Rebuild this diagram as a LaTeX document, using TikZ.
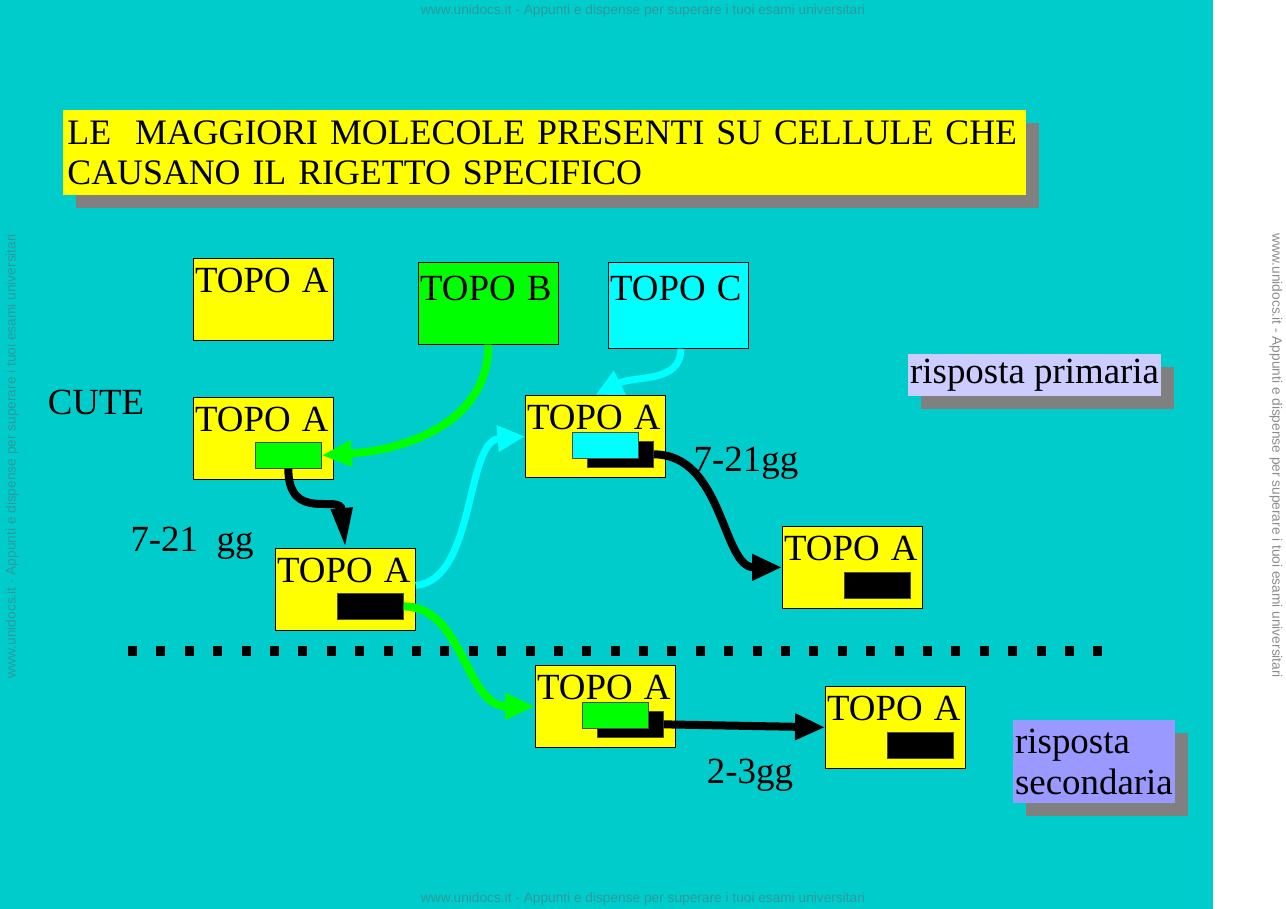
\documentclass[tikz,border=0pt]{standalone}
\usepackage{fontspec}
\setmainfont{Liberation Serif}
\newfontfamily\wmfont{Liberation Sans}
\usetikzlibrary{positioning,arrows.meta,shadows}
\definecolor{slide}{HTML}{00CCCC}
\definecolor{topoyel}{HTML}{FFFF00}
\definecolor{topogrn}{HTML}{00FF00}
\definecolor{topocya}{HTML}{00FFFF}
\definecolor{lilla}{HTML}{CCCCFF}
\definecolor{viola}{HTML}{9999FF}
\definecolor{ombra}{HTML}{808080}
\definecolor{wmark}{HTML}{2C9A9A}
\definecolor{wmgrey}{HTML}{8C8C8C}
\newcommand{\topoA}{TOPO\hspace{0.3em}A}

\begin{document}
\begin{tikzpicture}[x=0.02cm, y=-0.02cm,
    topo/.style={draw, fill=topoyel, anchor=north west, text width=2.73cm, align=left, inner sep=1pt, text height=0.64cm, text depth=0.93cm, font=\fontsize{21}{24}\selectfont},
    chip/.style={draw=black!70, anchor=north west, minimum width=1.32cm, minimum height=0.52cm, inner sep=0pt},
    lbl/.style={font=\fontsize{21}{23.2}\selectfont, inner sep=1pt},
    shadowbox/.style={drop shadow={shadow xshift=0.26cm, shadow yshift=-0.25cm, fill=ombra, opacity=1}},
    fat/.style={line width=0.16cm, -{Triangle[length=0.6cm, width=0.5cm]}},
    thin/.style={line width=0.14cm, -{Triangle[length=0.55cm, width=0.5cm]}},
    wm/.style={font=\wmfont\fontsize{7.8}{9}\selectfont, text=wmark, inner sep=0pt}
  ]
    \useasboundingbox (0,0) rectangle (1286,909);
    \fill[slide] (0,0) rectangle (1213,909);

    % watermarks
    \node[wm] (wmtop) at (643,11) {www.unidocs.it - Appunti e dispense per superare i tuoi esami universitari};
    \node[wm] (wmbot) at (643,899) {www.unidocs.it - Appunti e dispense per superare i tuoi esami universitari};
    \node[wm, rotate=90] (wmleft) at (12,456) {www.unidocs.it - Appunti e dispense per superare i tuoi esami universitari};
    \node[wm, rotate=-90, text=wmgrey] (wmright) at (1276,456) {www.unidocs.it - Appunti e dispense per superare i tuoi esami universitari};

    % title
    \node[shadowbox, fill=topoyel, anchor=north west, minimum width=19.26cm, minimum height=1.7cm, text width=19.1cm, inner xsep=0.06cm, yshift=-0.02cm, align=left, font=\fontsize{20.4}{23.2}\selectfont] (titolo) at (63,109) {\mbox{LE~~MAGGIORI MOLECOLE PRESENTI SU CELLULE CHE}\\CAUSANO IL RIGETTO SPECIFICO};

    % donors
    \node[topo] (topoA0) at (193,258) {\topoA};
    \node[topo, fill=topogrn, text height=0.72cm, text depth=0.85cm] (topoB) at (418,262) {TOPO\hspace{0.3em}B};
    \node[topo, fill=topocya, text height=0.72cm, text depth=0.93cm] (topoC) at (608,262) {TOPO\hspace{0.3em}C};

    \node[lbl] (cute) at (96,402) {CUTE};

    % primary graft
    \node[topo] (topoA1) at (193,397) {\topoA};
    \node[chip, fill=topogrn] (gchip1) at (255,442) {};

    \node[topo] (topoA2) at (275,548) {\topoA};
    \node[chip, fill=black] (kchip2) at (337,593) {};

    \node[topo] (topoA3) at (525,395) {\topoA};
    \node[chip, fill=black] (kchip3) at (587,441) {};
    \node[chip, fill=topocya] (cchip3) at (572,432) {};

    \node[topo] (topoA4) at (782,526) {\topoA};
    \node[chip, fill=black] (kchip4) at (844,572) {};

    % secondary
    \node[topo] (topoA5) at (535,665) {\topoA};
    \node[chip, fill=black] (kchip5) at (597,711) {};
    \node[chip, fill=topogrn] (gchip5) at (582,702) {};

    \node[topo] (topoA6) at (825,686) {\topoA};
    \node[chip, fill=black] (kchip6) at (887,732) {};

    \node[lbl] (gg1) at (192,543) {7-21~~gg};
    \node[lbl] (gg2) at (746,463) {7-21gg};
    \node[lbl] (gg3) at (750,775) {2-3gg};

    \node[lbl, shadowbox, fill=lilla, anchor=north west, minimum height=0.84cm] (primaria) at (908,354) {risposta primaria};
    \node[lbl, shadowbox, fill=viola, anchor=north west, minimum width=3.18cm, minimum height=1.66cm, align=left] (secondaria) at (1013,720) {risposta\\secondaria};

    \coordinate (dotL) at (128,651);
    \coordinate (dotR) at (1103,651);
    \draw[line width=0.2cm, dash pattern=on 0.18cm off 0.388cm] (dotL) -- (dotR);

    % connectors
    \draw[fat, topogrn] (topoB.south) .. controls +(0,80) and +(80,-5) .. (gchip1.east);
    \draw[line width=0.16cm, -{Triangle[length=0.8cm, width=0.4cm]}] (gchip1.south) .. controls +(0,55) and +(-5,-55) .. (topoA2.north);
    \draw[thin, topocya] ([xshift=0.05cm]topoC.south) .. controls +(0,35) and +(40,-20) .. (topoA3.north);
    \draw[thin, topocya] ([yshift=0.08cm]topoA2.east) .. controls +(60,-5) and +(-60,5) .. (topoA3.west);
    \draw[fat, topogrn] (kchip2.east) .. controls +(60,0) and +(-70,0) .. (topoA5.west);
    \draw[fat, black] (kchip3.east) .. controls +(70,0) and +(-60,0) .. (topoA4.west);
    \draw[fat, black] (kchip5.east) -- (topoA6.west);
  \end{tikzpicture}
\end{document}
